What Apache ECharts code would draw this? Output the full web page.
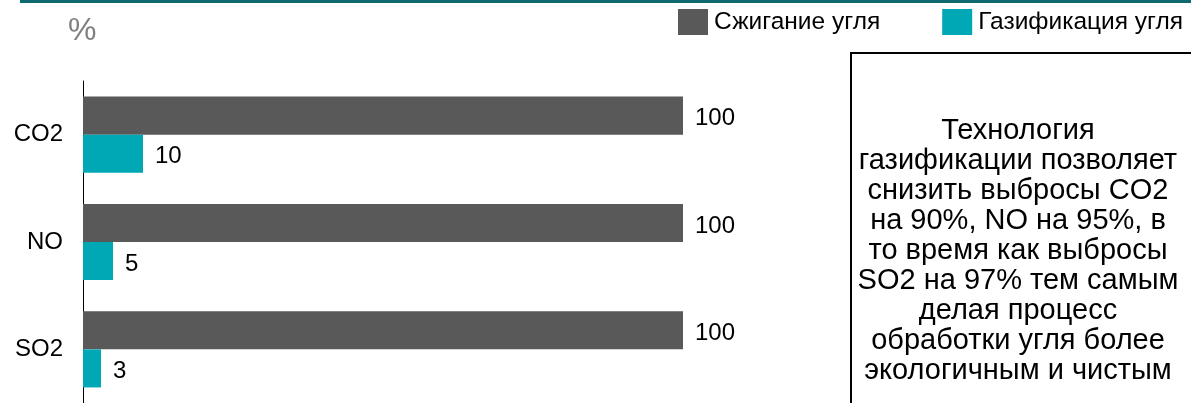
<!DOCTYPE html>
<html>
<head>
<meta charset="utf-8">
<script src="https://cdn.jsdelivr.net/npm/echarts@6/dist/echarts.min.js"></script>
<style>
  html, body { margin: 0; padding: 0; background: #fff; }
  #chart { width: 1191px; height: 403px; }
</style>
</head>
<body>
<div id="chart"></div>
<script>
// Emission categories and relative emission levels, %
const categories = ['CO2', 'NO', 'SO2'];
const coalCombustion = [100, 100, 100];
const coalGasification = [10, 5, 3];
const seriesNames = ['Сжигание угля', 'Газификация угля'];
const unitLabel = '%';
const noteLines = [
  'Технология',
  'газификации позволяет',
  'снизить выбросы CO2',
  'на 90%, NO на 95%, в',
  'то время как выбросы',
  'SO2 на 97% тем самым',
  'делая процесс',
  'обработки угля более',
  'экологичным и чистым'
];

const FONT = '"Liberation Sans", Arial, sans-serif';
const DARK = '#595959';
const TEAL = '#00a8b5';

const chart = echarts.init(document.getElementById('chart'), null, { renderer: 'canvas' });

const labelStyle = {
  show: true,
  position: 'right',
  distance: 12,
  offset: [0, 3],
  color: '#000',
  fontSize: 24,
  fontFamily: FONT
};

chart.setOption({
  animation: false,
  backgroundColor: '#fff',
  textStyle: { fontFamily: FONT },
  legend: {
    data: seriesNames,
    left: 678,
    top: 9,
    width: 600,
    padding: 0,
    itemWidth: 30,
    itemHeight: 26,
    itemGap: 62,
    icon: 'rect',
    textStyle: { fontSize: 24.5, color: '#000', fontFamily: FONT, padding: [0, 0, 0, 1] },
    selectedMode: false
  },
  grid: { left: 83, top: 81, width: 600, height: 325, containLabel: false },
  xAxis: {
    type: 'value',
    min: 0,
    max: 100,
    show: false
  },
  yAxis: {
    type: 'category',
    data: categories,
    inverse: true,
    axisLine: { show: true, lineStyle: { color: '#000', width: 1 } },
    axisTick: { show: false },
    axisLabel: { fontSize: 24, color: '#000', margin: 20, fontFamily: FONT },
    splitLine: { show: false }
  },
  series: [
    {
      name: seriesNames[0],
      type: 'bar',
      data: coalCombustion,
      itemStyle: { color: DARK },
      barGap: '0%',
      barCategoryGap: '29%',
      label: labelStyle
    },
    {
      name: seriesNames[1],
      type: 'bar',
      data: coalGasification,
      itemStyle: { color: TEAL },
      barGap: '0%',
      barCategoryGap: '29%',
      label: labelStyle
    }
  ],
  graphic: [
    // thin header rule
    { type: 'rect', left: 20, top: 0, shape: { width: 1171, height: 3 }, style: { fill: '#0f6a70' }, silent: true },
    // unit caption
    { type: 'text', left: 68, top: 15, style: { text: unitLabel, fill: '#7f7f7f', font: '32px ' + FONT }, silent: true },
    // comment box
    { type: 'rect', shape: { x: 851, y: 53, width: 400, height: 400 }, style: { fill: 'none', stroke: '#000', lineWidth: 2 }, silent: true },
    {
      type: 'text',
      x: 1018,
      y: 116,
      style: {
        text: noteLines.join('\n'),
        fill: '#000',
        font: '29px ' + FONT,
        textAlign: 'center',
        textVerticalAlign: 'top',
        lineHeight: 30
      },
      silent: true
    }
  ]
});
</script>
</body>
</html>
